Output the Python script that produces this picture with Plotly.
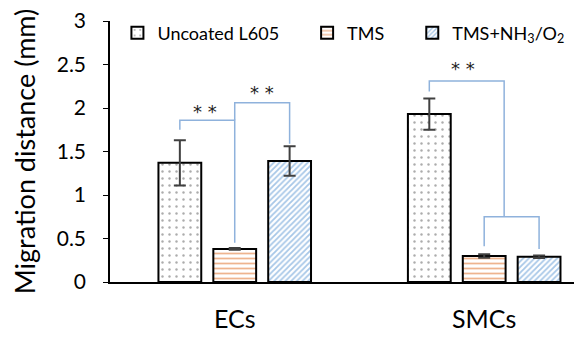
import plotly.graph_objects as go

# Cell types on the x axis and the three coating conditions
cells = ["ECs", "SMCs"]
groups = ["Uncoated L605", "TMS", "TMS+NH<sub>3</sub>/O<sub>2</sub>"]

# Mean migration distance (mm) and standard deviation per condition
uncoated = [1.37, 1.93]
uncoated_err = [0.26, 0.18]
tms = [0.38, 0.30]
tms_err = [0.01, 0.02]
tms_nh3 = [1.39, 0.29]
tms_nh3_err = [0.17, 0.015]

y_ticks = [0, 0.5, 1, 1.5, 2, 2.5, 3]

# Significance brackets: (x points, y points) in data units
brackets = [
    ([-0.22, -0.22, 0.0, 0.0], [1.75, 1.86, 1.86, 0.45]),
    ([0.0, 0.0, 0.22, 0.22], [1.86, 2.06, 2.06, 1.59]),
    ([0.78, 0.78, 1.08, 1.08], [2.19, 2.31, 2.31, 0.75]),
    ([1.0, 1.0, 1.22, 1.22], [0.41, 0.75, 0.75, 0.38]),
]
stars = [(-0.12, 1.955), (0.11, 2.175), (0.915, 2.45)]

x_pos = list(range(len(cells)))

patterns = [
    dict(shape=".", fgcolor="#5a5a5a", bgcolor="white", size=7, solidity=0.1),
    dict(shape="-", fgcolor="#DD6A1F", bgcolor="white", size=5, solidity=0.35),
    dict(shape="/", fgcolor="#4F8FD0", bgcolor="white", size=4, solidity=0.45),
]
values = [uncoated, tms, tms_nh3]
errors = [uncoated_err, tms_err, tms_nh3_err]
# trailing spacing after the first two legend labels
pads = ["\u00a0" * 5, "\u00a0" * 5, ""]

fig = go.Figure()
for name, pad, vals, errs, pat in zip(groups, pads, values, errors, patterns):
    fig.add_trace(go.Bar(
        x=x_pos, y=vals, name=name + pad,
        marker=dict(color="white", pattern=pat,
                    line=dict(color="black", width=2)),
        error_y=dict(type="data", array=errs, color="#404040",
                     thickness=2, width=6),
    ))

for bx, by in brackets:
    fig.add_trace(go.Scatter(
        x=bx, y=by, mode="lines", showlegend=False, hoverinfo="skip",
        line=dict(color="#8FB2DC", width=1.5),
    ))

for sx, sy in stars:
    fig.add_annotation(x=sx, y=sy, text="* *", showarrow=False,
                       font=dict(size=18, color="#222222",
                                 family="DejaVu Sans"))

fig.update_layout(
    width=574, height=337,
    margin=dict(l=110, r=0, t=21, b=55),
    paper_bgcolor="white", plot_bgcolor="white",
    barmode="group", bargap=0.34, bargroupgap=0.22,
    font=dict(family="Lato", color="black"),
    legend=dict(orientation="h", x=0.016, y=1.025, yanchor="top",
                font=dict(size=18, family="Lato"),
                bgcolor="rgba(0,0,0,0)", itemwidth=30),
    xaxis=dict(range=[-0.5, 1.36], tickvals=x_pos, ticktext=cells,
               tickfont=dict(size=25), showline=True, linecolor="black",
               linewidth=1.5, ticks="", showgrid=False, zeroline=False,
               ticklabelstandoff=14),
    yaxis=dict(range=[0, 3], tickvals=y_ticks,
               ticktext=[f"{v:g}" for v in y_ticks],
               tickfont=dict(size=21), showline=True, linecolor="black",
               linewidth=1.5, ticks="outside", ticklen=5, tickcolor="black",
               showgrid=False, zeroline=False, ticklabelstandoff=13,
               title=dict(text="Migration distance (mm)",
                          font=dict(size=27), standoff=13)),
)

fig.write_html("out.html")
